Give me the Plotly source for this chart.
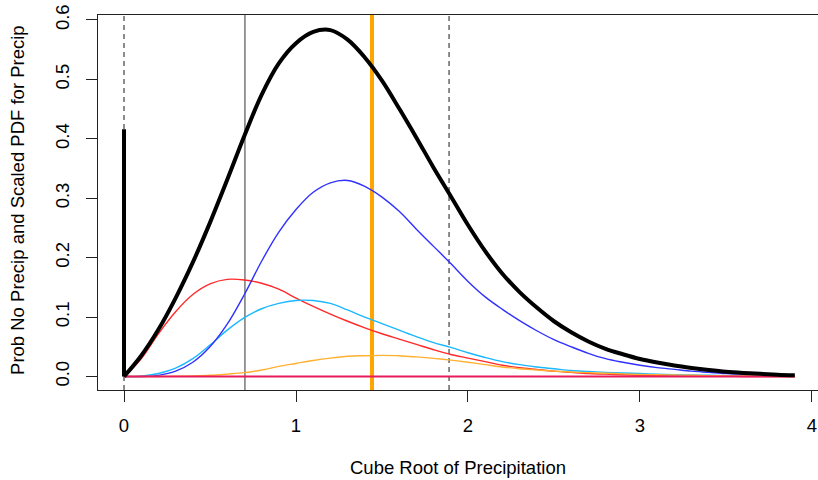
import plotly.graph_objects as go

# ---- data ----
x_grid = [0.0, 0.1, 0.2, 0.3, 0.4, 0.5, 0.6, 0.7, 0.8, 0.9,
          1.0, 1.1, 1.2, 1.3, 1.4, 1.5, 1.6, 1.7, 1.8, 1.9,
          2.0, 2.1, 2.2, 2.3, 2.4, 2.5, 2.6, 2.7, 2.8, 2.9,
          3.0, 3.1, 3.2, 3.3, 3.4, 3.5, 3.6, 3.7, 3.8, 3.9]

comp_red = [0, 0.030, 0.072, 0.109, 0.138, 0.156, 0.1635, 0.1625, 0.157, 0.147,
            0.132, 0.118, 0.105, 0.093, 0.082, 0.072, 0.063, 0.054, 0.045, 0.037,
            0.031, 0.025, 0.019, 0.015, 0.012, 0.009, 0.007, 0.005, 0.004, 0.003,
            0.002, 0.0015, 0.001, 0.001, 0.0005, 0.0005, 0, 0, 0, 0]

comp_skyblue = [0, 0.0005, 0.005, 0.014, 0.030, 0.053, 0.078, 0.099, 0.114, 0.123,
                0.128, 0.128, 0.123, 0.112, 0.100, 0.089, 0.078, 0.067, 0.057, 0.049,
                0.040, 0.032, 0.025, 0.020, 0.016, 0.013, 0.010, 0.0085, 0.007, 0.006,
                0.005, 0.004, 0.003, 0.0025, 0.002, 0.0015, 0.001, 0.001, 0.0005, 0.0005]

comp_blue = [0, 0, 0.002, 0.009, 0.024, 0.050, 0.088, 0.138, 0.194, 0.243,
             0.281, 0.310, 0.326, 0.330, 0.320, 0.302, 0.278, 0.248, 0.219, 0.190,
             0.160, 0.134, 0.113, 0.094, 0.077, 0.062, 0.050, 0.039, 0.030, 0.024,
             0.019, 0.015, 0.012, 0.009, 0.007, 0.005, 0.004, 0.003, 0.002, 0.0015]

comp_orange = [0, 0, 0, 0.0005, 0.001, 0.002, 0.004, 0.0065, 0.011, 0.017,
               0.022, 0.027, 0.031, 0.034, 0.035, 0.0355, 0.035, 0.033, 0.0305, 0.0275,
               0.024, 0.020, 0.016, 0.013, 0.011, 0.009, 0.0075, 0.0065, 0.0055, 0.0045,
               0.0035, 0.003, 0.0025, 0.002, 0.0015, 0.001, 0.001, 0.0005, 0.0005, 0]

comp_zero_x = [0.0, 3.9]
comp_zero_y = [0.0, 0.0]

total_pdf = [0, 0.035, 0.079, 0.132, 0.192, 0.259, 0.331, 0.405, 0.474, 0.527,
             0.561, 0.580, 0.583, 0.567, 0.537, 0.498, 0.451, 0.402, 0.3515, 0.3035,
             0.255, 0.211, 0.173, 0.142, 0.116, 0.093, 0.0745, 0.059, 0.0465, 0.0375,
             0.0295, 0.0235, 0.0185, 0.0145, 0.011, 0.008, 0.006, 0.0045, 0.003, 0.002]

prob_no_precip_x = [0.0, 0.0]
prob_no_precip_y = [0.0, 0.416]

dashed_lines_x = [0.0, 1.89]
solid_gray_x = [0.703]
orange_line_x = [1.442]

x_ticks = [0, 1, 2, 3, 4]
x_tick_labels = ["0", "1", "2", "3", "4"]
y_ticks = [0.0, 0.1, 0.2, 0.3, 0.4, 0.5, 0.6]
y_tick_labels = ["0.0", "0.1", "0.2", "0.3", "0.4", "0.5", "0.6"]

x_title = "Cube Root of Precipitation"
y_title = "Prob No Precip and Scaled PDF for Precip"

FONT = "Liberation Sans, Arial, Helvetica, sans-serif"
SMOOTH = 1.0

fig = go.Figure()

# vertical reference lines
shapes = []
for xv in dashed_lines_x:
    shapes.append(dict(type="line", xref="x", yref="paper", x0=xv, x1=xv, y0=0, y1=1,
                       line=dict(color="#666666", width=1.5, dash="5px,4px"), layer="below"))
for xv in solid_gray_x:
    shapes.append(dict(type="line", xref="x", yref="paper", x0=xv, x1=xv, y0=0, y1=1,
                       line=dict(color="#777777", width=1.5), layer="below"))
for xv in orange_line_x:
    shapes.append(dict(type="line", xref="x", yref="paper", x0=xv, x1=xv, y0=0, y1=1,
                       line=dict(color="#FFA500", width=4), layer="below"))

comps = [
    (comp_red, "#ff2a2a"),
    (comp_skyblue, "#1ab8ff"),
    (comp_blue, "#3030ff"),
    (comp_orange, "#ffb030"),
]
for ys, col in comps:
    fig.add_trace(go.Scatter(x=x_grid, y=ys, mode="lines",
                             line=dict(color=col, width=1.4, shape="spline",
                                       smoothing=SMOOTH, simplify=False),
                             hoverinfo="skip", showlegend=False))

fig.add_trace(go.Scatter(x=comp_zero_x, y=comp_zero_y, mode="lines",
                         line=dict(color="#e81c5c", width=2.2),
                         hoverinfo="skip", showlegend=False))

fig.add_trace(go.Scatter(x=x_grid, y=total_pdf, mode="lines",
                         line=dict(color="black", width=4, shape="spline",
                                   smoothing=SMOOTH, simplify=False),
                         hoverinfo="skip", showlegend=False))

fig.add_trace(go.Scatter(x=prob_no_precip_x, y=prob_no_precip_y, mode="lines",
                         line=dict(color="black", width=4),
                         hoverinfo="skip", showlegend=False))

fig.update_layout(
    width=818, height=480,
    margin=dict(l=98, r=0, t=15, b=90),
    paper_bgcolor="white", plot_bgcolor="white",
    font=dict(family=FONT, size=18.5, color="black"),
    shapes=shapes,
    showlegend=False,
    xaxis=dict(range=[-0.1512, 4.035], tickvals=x_ticks, ticktext=x_tick_labels,
               showgrid=False, zeroline=False, showline=True, linecolor="#222",
               linewidth=1, mirror=True, ticks="outside", ticklen=11, tickwidth=1,
               tickcolor="#222", ticklabelstandoff=8,
               tickfont=dict(family=FONT, size=18.5, color="black")),
    yaxis=dict(range=[-0.0227, 0.6084], tickvals=y_ticks, ticktext=y_tick_labels,
               showgrid=False, zeroline=False, showline=True, linecolor="#222",
               linewidth=1, mirror=False, ticks="outside", ticklen=11, tickwidth=1,
               tickcolor="#222", tickangle=-90, ticklabelstandoff=10,
               tickfont=dict(family=FONT, size=18.5, color="black")),
    annotations=[
        dict(text=x_title, xref="paper", yref="paper", x=0.5, y=-0.2373,
             xanchor="center", yanchor="bottom", borderpad=0, showarrow=False,
             font=dict(family=FONT, size=18.5, color="black")),
        dict(text=y_title, xref="paper", yref="paper", x=-0.111, y=0.507,
             xanchor="center", yanchor="middle", textangle=-90, showarrow=False,
             font=dict(family=FONT, size=18.5, color="black")),
    ],
)

fig.write_html("out.html")
